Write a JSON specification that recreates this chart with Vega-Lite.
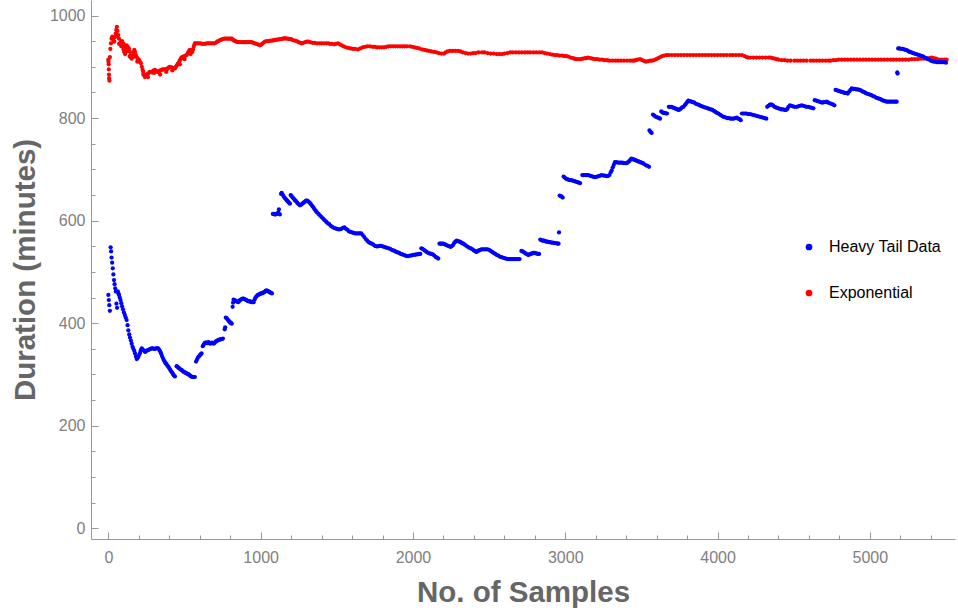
{
"$schema":"https://vega.github.io/schema/vega-lite/v6.json",
"width":864,"height":539,
"autosize":{"type":"none"},
"padding":{"left":91,"top":0,"right":3,"bottom":76},
"config":{"view":{"stroke":null},"font":"Liberation Sans",
"axis":{"grid":false,"domainColor":"#999999","tickColor":"#999999","labelColor":"#808080","labelFontSize":16,"labelFont":"Liberation Sans","titleColor":"#666666","titleFont":"Liberation Sans","titleFontSize":29.5,"titleFontWeight":"bold","domainWidth":1,"tickWidth":1}},
"datasets":{
"expo":[{"x":0,"y":914},{"x":1,"y":910},{"x":2,"y":905},{"x":3,"y":895},{"x":4,"y":885},{"x":5,"y":878},{"x":7,"y":873},{"x":10,"y":919},{"x":13,"y":935},{"x":17,"y":946},{"x":21,"y":955},{"x":26,"y":959},{"x":30,"y":955},{"x":35,"y":950},{"x":39,"y":949},{"x":44,"y":958},{"x":48,"y":965},{"x":52,"y":972},{"x":56,"y":978},{"x":60,"y":970},{"x":60,"y":960},{"x":65,"y":962},{"x":70,"y":955},{"x":70,"y":945},{"x":76,"y":946},{"x":82,"y":948},{"x":85,"y":940},{"x":88,"y":950},{"x":91,"y":949},{"x":96,"y":940},{"x":100,"y":934},{"x":100,"y":945},{"x":104,"y":929},{"x":110,"y":936},{"x":110,"y":925},{"x":115,"y":940},{"x":120,"y":942},{"x":120,"y":930},{"x":127,"y":939},{"x":135,"y":936},{"x":140,"y":930},{"x":140,"y":920},{"x":145,"y":923},{"x":150,"y":918},{"x":153,"y":916},{"x":158,"y":922},{"x":164,"y":928},{"x":170,"y":933},{"x":170,"y":920},{"x":175,"y":929},{"x":181,"y":923},{"x":186,"y":919},{"x":190,"y":910},{"x":192,"y":916},{"x":198,"y":914},{"x":201,"y":913},{"x":207,"y":910},{"x":214,"y":907},{"x":220,"y":900},{"x":225,"y":894},{"x":229,"y":890},{"x":230,"y":885},{"x":235,"y":884},{"x":240,"y":880},{"x":246,"y":883},{"x":252,"y":885},{"x":258,"y":886},{"x":260,"y":880},{"x":262,"y":887},{"x":268,"y":889},{"x":274,"y":890},{"x":280,"y":890},{"x":286,"y":889},{"x":292,"y":891},{"x":298,"y":893},{"x":300,"y":888},{"x":306,"y":894},{"x":312,"y":892},{"x":318,"y":891},{"x":324,"y":890},{"x":330,"y":890},{"x":336,"y":892},{"x":340,"y":885},{"x":342,"y":893},{"x":350,"y":894},{"x":358,"y":895},{"x":366,"y":895},{"x":374,"y":895},{"x":380,"y":890},{"x":383,"y":895},{"x":390,"y":897},{"x":397,"y":899},{"x":405,"y":900},{"x":412,"y":899},{"x":420,"y":898},{"x":420,"y":893},{"x":428,"y":897},{"x":437,"y":897},{"x":444,"y":900},{"x":450,"y":903},{"x":456,"y":906},{"x":462,"y":908},{"x":468,"y":912},{"x":470,"y":905},{"x":474,"y":915},{"x":480,"y":918},{"x":486,"y":919},{"x":492,"y":920},{"x":500,"y":921},{"x":500,"y":915},{"x":507,"y":922},{"x":514,"y":923},{"x":520,"y":926},{"x":526,"y":929},{"x":532,"y":932},{"x":536,"y":933},{"x":540,"y":932},{"x":540,"y":925},{"x":546,"y":930},{"x":551,"y":929},{"x":556,"y":934},{"x":560,"y":939},{"x":565,"y":943},{"x":569,"y":946},{"x":575,"y":946},{"x":585,"y":946},{"x":595,"y":946},{"x":605,"y":946},{"x":615,"y":945},{"x":625,"y":945},{"x":635,"y":945},{"x":645,"y":946},{"x":656,"y":946},{"x":666,"y":946},{"x":676,"y":946},{"x":686,"y":946},{"x":696,"y":946},{"x":706,"y":947},{"x":714,"y":949},{"x":722,"y":950},{"x":733,"y":952},{"x":742,"y":953},{"x":752,"y":954},{"x":762,"y":955},{"x":772,"y":955},{"x":782,"y":955},{"x":792,"y":955},{"x":802,"y":955},{"x":810,"y":955},{"x":818,"y":953},{"x":826,"y":951},{"x":834,"y":950},{"x":842,"y":949},{"x":852,"y":948},{"x":862,"y":948},{"x":872,"y":948},{"x":882,"y":948},{"x":892,"y":948},{"x":902,"y":948},{"x":912,"y":948},{"x":922,"y":948},{"x":932,"y":948},{"x":941,"y":948},{"x":951,"y":947},{"x":961,"y":946},{"x":971,"y":945},{"x":981,"y":944},{"x":990,"y":943},{"x":995,"y":942},{"x":1002,"y":943},{"x":1010,"y":945},{"x":1018,"y":947},{"x":1028,"y":949},{"x":1040,"y":950},{"x":1052,"y":950},{"x":1064,"y":951},{"x":1076,"y":951},{"x":1086,"y":952},{"x":1094,"y":952},{"x":1104,"y":953},{"x":1114,"y":953},{"x":1124,"y":954},{"x":1134,"y":954},{"x":1144,"y":955},{"x":1152,"y":955},{"x":1160,"y":956},{"x":1170,"y":955},{"x":1180,"y":955},{"x":1190,"y":954},{"x":1200,"y":954},{"x":1212,"y":952},{"x":1225,"y":951},{"x":1237,"y":950},{"x":1249,"y":948},{"x":1260,"y":947},{"x":1269,"y":946},{"x":1280,"y":947},{"x":1292,"y":948},{"x":1303,"y":949},{"x":1313,"y":949},{"x":1325,"y":948},{"x":1340,"y":947},{"x":1355,"y":947},{"x":1370,"y":946},{"x":1385,"y":946},{"x":1400,"y":946},{"x":1415,"y":946},{"x":1430,"y":946},{"x":1444,"y":946},{"x":1455,"y":945},{"x":1468,"y":945},{"x":1483,"y":944},{"x":1495,"y":945},{"x":1508,"y":946},{"x":1520,"y":944},{"x":1532,"y":942},{"x":1545,"y":940},{"x":1560,"y":938},{"x":1575,"y":937},{"x":1590,"y":936},{"x":1605,"y":935},{"x":1620,"y":935},{"x":1639,"y":934},{"x":1655,"y":936},{"x":1670,"y":938},{"x":1685,"y":939},{"x":1700,"y":940},{"x":1718,"y":940},{"x":1735,"y":939},{"x":1750,"y":939},{"x":1765,"y":938},{"x":1780,"y":938},{"x":1797,"y":938},{"x":1810,"y":938},{"x":1825,"y":939},{"x":1840,"y":940},{"x":1855,"y":940},{"x":1870,"y":940},{"x":1885,"y":940},{"x":1900,"y":940},{"x":1915,"y":940},{"x":1930,"y":940},{"x":1945,"y":940},{"x":1960,"y":940},{"x":1980,"y":940},{"x":1995,"y":939},{"x":2010,"y":938},{"x":2025,"y":937},{"x":2040,"y":936},{"x":2059,"y":934},{"x":2075,"y":933},{"x":2090,"y":932},{"x":2105,"y":931},{"x":2120,"y":930},{"x":2138,"y":929},{"x":2155,"y":928},{"x":2170,"y":927},{"x":2187,"y":926},{"x":2204,"y":926},{"x":2215,"y":928},{"x":2228,"y":930},{"x":2243,"y":931},{"x":2260,"y":931},{"x":2278,"y":931},{"x":2296,"y":931},{"x":2312,"y":930},{"x":2328,"y":928},{"x":2345,"y":927},{"x":2361,"y":926},{"x":2378,"y":926},{"x":2395,"y":927},{"x":2412,"y":927},{"x":2430,"y":928},{"x":2453,"y":928},{"x":2470,"y":928},{"x":2490,"y":927},{"x":2510,"y":926},{"x":2530,"y":926},{"x":2550,"y":925},{"x":2568,"y":925},{"x":2585,"y":925},{"x":2600,"y":926},{"x":2620,"y":927},{"x":2638,"y":928},{"x":2655,"y":928},{"x":2675,"y":928},{"x":2695,"y":928},{"x":2715,"y":928},{"x":2735,"y":928},{"x":2752,"y":928},{"x":2769,"y":928},{"x":2790,"y":928},{"x":2810,"y":928},{"x":2830,"y":928},{"x":2848,"y":928},{"x":2865,"y":927},{"x":2880,"y":926},{"x":2898,"y":925},{"x":2914,"y":924},{"x":2930,"y":923},{"x":2946,"y":923},{"x":2962,"y":922},{"x":2980,"y":922},{"x":2994,"y":921},{"x":3006,"y":921},{"x":3020,"y":920},{"x":3035,"y":918},{"x":3050,"y":917},{"x":3060,"y":916},{"x":3071,"y":915},{"x":3085,"y":915},{"x":3100,"y":915},{"x":3115,"y":916},{"x":3130,"y":917},{"x":3140,"y":917},{"x":3150,"y":918},{"x":3165,"y":917},{"x":3180,"y":916},{"x":3195,"y":915},{"x":3210,"y":915},{"x":3225,"y":914},{"x":3242,"y":914},{"x":3258,"y":913},{"x":3275,"y":913},{"x":3290,"y":912},{"x":3310,"y":912},{"x":3330,"y":912},{"x":3347,"y":912},{"x":3365,"y":912},{"x":3385,"y":912},{"x":3405,"y":912},{"x":3425,"y":912},{"x":3440,"y":912},{"x":3452,"y":912},{"x":3462,"y":913},{"x":3475,"y":914},{"x":3491,"y":915},{"x":3505,"y":913},{"x":3520,"y":911},{"x":3531,"y":910},{"x":3545,"y":911},{"x":3558,"y":912},{"x":3570,"y":912},{"x":3583,"y":913},{"x":3597,"y":915},{"x":3610,"y":917},{"x":3623,"y":919},{"x":3636,"y":921},{"x":3650,"y":922},{"x":3665,"y":923},{"x":3680,"y":923},{"x":3700,"y":923},{"x":3720,"y":923},{"x":3740,"y":923},{"x":3760,"y":923},{"x":3780,"y":923},{"x":3800,"y":923},{"x":3820,"y":923},{"x":3840,"y":923},{"x":3860,"y":923},{"x":3880,"y":923},{"x":3900,"y":923},{"x":3920,"y":923},{"x":3940,"y":923},{"x":3960,"y":923},{"x":3980,"y":923},{"x":4000,"y":923},{"x":4020,"y":923},{"x":4040,"y":923},{"x":4060,"y":923},{"x":4082,"y":923},{"x":4100,"y":923},{"x":4120,"y":923},{"x":4140,"y":923},{"x":4160,"y":923},{"x":4177,"y":921},{"x":4190,"y":919},{"x":4200,"y":918},{"x":4216,"y":918},{"x":4235,"y":918},{"x":4255,"y":918},{"x":4275,"y":918},{"x":4295,"y":918},{"x":4315,"y":918},{"x":4335,"y":918},{"x":4348,"y":918},{"x":4362,"y":917},{"x":4375,"y":916},{"x":4388,"y":915},{"x":4400,"y":914},{"x":4420,"y":913},{"x":4440,"y":913},{"x":4460,"y":912},{"x":4480,"y":912},{"x":4505,"y":912},{"x":4525,"y":912},{"x":4545,"y":912},{"x":4565,"y":912},{"x":4585,"y":912},{"x":4611,"y":912},{"x":4630,"y":912},{"x":4650,"y":912},{"x":4670,"y":912},{"x":4690,"y":912},{"x":4710,"y":912},{"x":4730,"y":912},{"x":4742,"y":912},{"x":4760,"y":913},{"x":4777,"y":913},{"x":4794,"y":914},{"x":4815,"y":914},{"x":4835,"y":914},{"x":4855,"y":914},{"x":4875,"y":914},{"x":4895,"y":914},{"x":4915,"y":914},{"x":4935,"y":914},{"x":4955,"y":914},{"x":4975,"y":914},{"x":4995,"y":914},{"x":5015,"y":914},{"x":5035,"y":914},{"x":5055,"y":914},{"x":5075,"y":914},{"x":5095,"y":914},{"x":5115,"y":914},{"x":5137,"y":914},{"x":5155,"y":914},{"x":5175,"y":914},{"x":5195,"y":914},{"x":5215,"y":914},{"x":5235,"y":914},{"x":5255,"y":914},{"x":5275,"y":915},{"x":5295,"y":915},{"x":5315,"y":915},{"x":5335,"y":916},{"x":5355,"y":916},{"x":5373,"y":916},{"x":5390,"y":917},{"x":5405,"y":918},{"x":5420,"y":917},{"x":5435,"y":916},{"x":5452,"y":914},{"x":5470,"y":914},{"x":5490,"y":914},{"x":5504,"y":914}],
"heavy":[{"x":0,"y":455},{"x":3,"y":445},{"x":6,"y":435},{"x":10,"y":424},{"x":15,"y":548},{"x":18,"y":540},{"x":21,"y":528},{"x":25,"y":518},{"x":29,"y":507},{"x":33,"y":495},{"x":37,"y":484},{"x":41,"y":476},{"x":45,"y":468},{"x":49,"y":462},{"x":53,"y":438},{"x":57,"y":430},{"x":62,"y":462},{"x":66,"y":458},{"x":70,"y":455},{"x":75,"y":450},{"x":80,"y":445},{"x":85,"y":439},{"x":90,"y":433},{"x":96,"y":427},{"x":102,"y":421},{"x":108,"y":416},{"x":114,"y":411},{"x":120,"y":406},{"x":126,"y":396},{"x":131,"y":386},{"x":137,"y":378},{"x":142,"y":372},{"x":148,"y":366},{"x":153,"y":360},{"x":159,"y":354},{"x":164,"y":350},{"x":170,"y":346},{"x":175,"y":341},{"x":181,"y":335},{"x":186,"y":330},{"x":191,"y":332},{"x":196,"y":334},{"x":202,"y":338},{"x":208,"y":342},{"x":213,"y":347},{"x":219,"y":351},{"x":225,"y":349},{"x":231,"y":347},{"x":237,"y":345},{"x":243,"y":344},{"x":250,"y":346},{"x":257,"y":347},{"x":264,"y":348},{"x":271,"y":349},{"x":278,"y":350},{"x":285,"y":351},{"x":292,"y":351},{"x":299,"y":350},{"x":306,"y":350},{"x":313,"y":351},{"x":320,"y":351},{"x":327,"y":351},{"x":334,"y":348},{"x":340,"y":345},{"x":346,"y":341},{"x":352,"y":336},{"x":358,"y":332},{"x":364,"y":328},{"x":370,"y":325},{"x":376,"y":322},{"x":382,"y":320},{"x":388,"y":317},{"x":394,"y":315},{"x":400,"y":312},{"x":406,"y":309},{"x":412,"y":306},{"x":418,"y":304},{"x":424,"y":301},{"x":430,"y":298},{"x":437,"y":296},{"x":448,"y":316},{"x":454,"y":315},{"x":460,"y":313},{"x":466,"y":312},{"x":472,"y":310},{"x":478,"y":309},{"x":484,"y":308},{"x":490,"y":306},{"x":496,"y":305},{"x":502,"y":304},{"x":508,"y":303},{"x":514,"y":302},{"x":520,"y":301},{"x":526,"y":300},{"x":532,"y":299},{"x":538,"y":297},{"x":544,"y":296},{"x":550,"y":295},{"x":556,"y":295},{"x":562,"y":295},{"x":568,"y":295},{"x":576,"y":325},{"x":582,"y":329},{"x":588,"y":333},{"x":594,"y":335},{"x":600,"y":337},{"x":606,"y":339},{"x":612,"y":341},{"x":620,"y":355},{"x":626,"y":358},{"x":632,"y":361},{"x":638,"y":362},{"x":644,"y":362},{"x":650,"y":361},{"x":656,"y":363},{"x":662,"y":362},{"x":668,"y":360},{"x":674,"y":361},{"x":680,"y":362},{"x":686,"y":361},{"x":692,"y":360},{"x":698,"y":362},{"x":704,"y":364},{"x":710,"y":365},{"x":716,"y":366},{"x":722,"y":367},{"x":728,"y":368},{"x":734,"y":368},{"x":740,"y":369},{"x":746,"y":369},{"x":752,"y":370},{"x":764,"y":388},{"x":767,"y":392},{"x":771,"y":411},{"x":776,"y":410},{"x":781,"y":408},{"x":786,"y":406},{"x":791,"y":404},{"x":796,"y":403},{"x":801,"y":401},{"x":806,"y":400},{"x":810,"y":399},{"x":816,"y":432},{"x":819,"y":440},{"x":822,"y":446},{"x":828,"y":445},{"x":834,"y":444},{"x":840,"y":443},{"x":846,"y":442},{"x":852,"y":441},{"x":858,"y":443},{"x":864,"y":445},{"x":870,"y":446},{"x":876,"y":447},{"x":882,"y":448},{"x":888,"y":448},{"x":894,"y":447},{"x":900,"y":446},{"x":906,"y":445},{"x":912,"y":444},{"x":918,"y":443},{"x":924,"y":443},{"x":930,"y":442},{"x":936,"y":442},{"x":942,"y":441},{"x":948,"y":441},{"x":954,"y":441},{"x":960,"y":446},{"x":966,"y":450},{"x":972,"y":452},{"x":978,"y":454},{"x":984,"y":455},{"x":990,"y":456},{"x":996,"y":457},{"x":1002,"y":458},{"x":1008,"y":458},{"x":1014,"y":459},{"x":1020,"y":460},{"x":1026,"y":461},{"x":1032,"y":463},{"x":1038,"y":464},{"x":1044,"y":463},{"x":1050,"y":462},{"x":1056,"y":461},{"x":1062,"y":460},{"x":1068,"y":459},{"x":1074,"y":458},{"x":1080,"y":613},{"x":1086,"y":613},{"x":1092,"y":612},{"x":1098,"y":612},{"x":1104,"y":613},{"x":1110,"y":614},{"x":1116,"y":616},{"x":1120,"y":622},{"x":1126,"y":612},{"x":1134,"y":652},{"x":1138,"y":654},{"x":1144,"y":651},{"x":1150,"y":648},{"x":1156,"y":645},{"x":1162,"y":643},{"x":1168,"y":641},{"x":1174,"y":639},{"x":1180,"y":637},{"x":1186,"y":635},{"x":1192,"y":633},{"x":1197,"y":650},{"x":1203,"y":648},{"x":1210,"y":645},{"x":1217,"y":643},{"x":1225,"y":640},{"x":1232,"y":638},{"x":1240,"y":635},{"x":1249,"y":632},{"x":1258,"y":630},{"x":1266,"y":631},{"x":1274,"y":633},{"x":1282,"y":635},{"x":1290,"y":637},{"x":1298,"y":639},{"x":1306,"y":639},{"x":1314,"y":637},{"x":1322,"y":635},{"x":1330,"y":632},{"x":1338,"y":629},{"x":1346,"y":626},{"x":1354,"y":622},{"x":1362,"y":619},{"x":1370,"y":616},{"x":1380,"y":613},{"x":1390,"y":610},{"x":1400,"y":607},{"x":1410,"y":604},{"x":1420,"y":601},{"x":1430,"y":598},{"x":1440,"y":595},{"x":1450,"y":593},{"x":1460,"y":590},{"x":1470,"y":588},{"x":1480,"y":586},{"x":1490,"y":585},{"x":1500,"y":584},{"x":1510,"y":583},{"x":1520,"y":583},{"x":1530,"y":584},{"x":1540,"y":586},{"x":1550,"y":587},{"x":1560,"y":584},{"x":1570,"y":582},{"x":1580,"y":579},{"x":1590,"y":578},{"x":1600,"y":577},{"x":1610,"y":576},{"x":1620,"y":575},{"x":1630,"y":575},{"x":1640,"y":575},{"x":1650,"y":575},{"x":1660,"y":575},{"x":1670,"y":572},{"x":1680,"y":568},{"x":1690,"y":564},{"x":1700,"y":561},{"x":1710,"y":558},{"x":1720,"y":556},{"x":1730,"y":555},{"x":1740,"y":553},{"x":1750,"y":551},{"x":1760,"y":550},{"x":1770,"y":550},{"x":1780,"y":551},{"x":1790,"y":551},{"x":1800,"y":550},{"x":1810,"y":549},{"x":1820,"y":548},{"x":1830,"y":547},{"x":1840,"y":546},{"x":1850,"y":545},{"x":1860,"y":543},{"x":1870,"y":542},{"x":1880,"y":541},{"x":1890,"y":539},{"x":1900,"y":538},{"x":1910,"y":537},{"x":1920,"y":535},{"x":1930,"y":534},{"x":1940,"y":533},{"x":1950,"y":532},{"x":1960,"y":531},{"x":1970,"y":531},{"x":1980,"y":532},{"x":1990,"y":532},{"x":2000,"y":533},{"x":2010,"y":533},{"x":2020,"y":534},{"x":2030,"y":534},{"x":2040,"y":535},{"x":2048,"y":535},{"x":2055,"y":546},{"x":2063,"y":545},{"x":2072,"y":543},{"x":2081,"y":541},{"x":2090,"y":539},{"x":2100,"y":537},{"x":2110,"y":536},{"x":2120,"y":535},{"x":2130,"y":534},{"x":2140,"y":532},{"x":2150,"y":529},{"x":2158,"y":528},{"x":2166,"y":526},{"x":2174,"y":555},{"x":2182,"y":555},{"x":2190,"y":555},{"x":2198,"y":555},{"x":2206,"y":554},{"x":2214,"y":553},{"x":2222,"y":552},{"x":2230,"y":551},{"x":2238,"y":550},{"x":2246,"y":549},{"x":2254,"y":550},{"x":2262,"y":552},{"x":2270,"y":556},{"x":2278,"y":559},{"x":2287,"y":561},{"x":2296,"y":560},{"x":2305,"y":559},{"x":2314,"y":558},{"x":2322,"y":556},{"x":2330,"y":555},{"x":2340,"y":553},{"x":2350,"y":551},{"x":2360,"y":549},{"x":2370,"y":547},{"x":2380,"y":546},{"x":2390,"y":544},{"x":2400,"y":542},{"x":2410,"y":540},{"x":2418,"y":539},{"x":2426,"y":541},{"x":2434,"y":542},{"x":2442,"y":543},{"x":2451,"y":544},{"x":2460,"y":544},{"x":2470,"y":544},{"x":2480,"y":544},{"x":2490,"y":544},{"x":2500,"y":543},{"x":2510,"y":541},{"x":2520,"y":539},{"x":2530,"y":537},{"x":2540,"y":535},{"x":2550,"y":533},{"x":2560,"y":532},{"x":2570,"y":530},{"x":2580,"y":529},{"x":2590,"y":528},{"x":2600,"y":527},{"x":2610,"y":526},{"x":2620,"y":525},{"x":2630,"y":525},{"x":2640,"y":525},{"x":2650,"y":525},{"x":2660,"y":525},{"x":2670,"y":525},{"x":2680,"y":525},{"x":2690,"y":525},{"x":2700,"y":525},{"x":2712,"y":541},{"x":2720,"y":540},{"x":2730,"y":538},{"x":2740,"y":536},{"x":2750,"y":534},{"x":2758,"y":533},{"x":2766,"y":534},{"x":2774,"y":535},{"x":2782,"y":536},{"x":2790,"y":537},{"x":2800,"y":537},{"x":2810,"y":536},{"x":2820,"y":535},{"x":2828,"y":535},{"x":2836,"y":563},{"x":2844,"y":562},{"x":2852,"y":561},{"x":2860,"y":561},{"x":2868,"y":560},{"x":2876,"y":559},{"x":2884,"y":559},{"x":2892,"y":558},{"x":2900,"y":558},{"x":2910,"y":557},{"x":2920,"y":557},{"x":2930,"y":556},{"x":2940,"y":556},{"x":2950,"y":555},{"x":2956,"y":555},{"x":2959,"y":577},{"x":2963,"y":649},{"x":2970,"y":648},{"x":2976,"y":647},{"x":2983,"y":645},{"x":2989,"y":686},{"x":2996,"y":684},{"x":3004,"y":682},{"x":3012,"y":681},{"x":3020,"y":680},{"x":3030,"y":679},{"x":3040,"y":679},{"x":3050,"y":678},{"x":3060,"y":677},{"x":3070,"y":676},{"x":3080,"y":675},{"x":3090,"y":674},{"x":3097,"y":673},{"x":3112,"y":689},{"x":3120,"y":689},{"x":3130,"y":689},{"x":3140,"y":689},{"x":3150,"y":689},{"x":3160,"y":688},{"x":3170,"y":687},{"x":3180,"y":686},{"x":3190,"y":685},{"x":3200,"y":685},{"x":3210,"y":686},{"x":3220,"y":687},{"x":3230,"y":688},{"x":3240,"y":689},{"x":3250,"y":688},{"x":3260,"y":688},{"x":3270,"y":687},{"x":3280,"y":687},{"x":3290,"y":689},{"x":3298,"y":694},{"x":3305,"y":698},{"x":3312,"y":704},{"x":3319,"y":709},{"x":3326,"y":714},{"x":3336,"y":714},{"x":3346,"y":713},{"x":3356,"y":713},{"x":3366,"y":713},{"x":3376,"y":713},{"x":3386,"y":712},{"x":3396,"y":712},{"x":3404,"y":712},{"x":3412,"y":714},{"x":3420,"y":716},{"x":3428,"y":719},{"x":3435,"y":721},{"x":3444,"y":720},{"x":3452,"y":719},{"x":3460,"y":718},{"x":3468,"y":717},{"x":3476,"y":716},{"x":3484,"y":715},{"x":3492,"y":714},{"x":3500,"y":713},{"x":3510,"y":712},{"x":3520,"y":710},{"x":3530,"y":708},{"x":3540,"y":707},{"x":3550,"y":705},{"x":3553,"y":776},{"x":3560,"y":773},{"x":3567,"y":771},{"x":3576,"y":807},{"x":3584,"y":805},{"x":3592,"y":803},{"x":3600,"y":802},{"x":3608,"y":801},{"x":3616,"y":800},{"x":3622,"y":799},{"x":3630,"y":813},{"x":3638,"y":811},{"x":3646,"y":810},{"x":3654,"y":810},{"x":3662,"y":809},{"x":3668,"y":809},{"x":3680,"y":822},{"x":3688,"y":822},{"x":3696,"y":822},{"x":3704,"y":821},{"x":3712,"y":820},{"x":3720,"y":819},{"x":3728,"y":818},{"x":3736,"y":817},{"x":3744,"y":816},{"x":3752,"y":817},{"x":3760,"y":819},{"x":3768,"y":821},{"x":3776,"y":822},{"x":3784,"y":825},{"x":3792,"y":828},{"x":3800,"y":831},{"x":3808,"y":834},{"x":3818,"y":833},{"x":3828,"y":832},{"x":3838,"y":831},{"x":3848,"y":830},{"x":3858,"y":828},{"x":3868,"y":827},{"x":3878,"y":826},{"x":3888,"y":824},{"x":3898,"y":823},{"x":3906,"y":822},{"x":3916,"y":821},{"x":3926,"y":820},{"x":3936,"y":819},{"x":3946,"y":818},{"x":3956,"y":817},{"x":3966,"y":816},{"x":3976,"y":814},{"x":3986,"y":812},{"x":3996,"y":810},{"x":4005,"y":809},{"x":4015,"y":807},{"x":4025,"y":805},{"x":4035,"y":803},{"x":4045,"y":802},{"x":4055,"y":801},{"x":4065,"y":800},{"x":4075,"y":800},{"x":4085,"y":799},{"x":4095,"y":799},{"x":4105,"y":799},{"x":4115,"y":800},{"x":4126,"y":801},{"x":4135,"y":799},{"x":4144,"y":798},{"x":4152,"y":796},{"x":4160,"y":809},{"x":4170,"y":809},{"x":4180,"y":809},{"x":4190,"y":809},{"x":4200,"y":808},{"x":4213,"y":808},{"x":4225,"y":807},{"x":4237,"y":806},{"x":4249,"y":805},{"x":4261,"y":804},{"x":4273,"y":803},{"x":4285,"y":802},{"x":4297,"y":801},{"x":4309,"y":800},{"x":4320,"y":799},{"x":4326,"y":822},{"x":4334,"y":824},{"x":4342,"y":826},{"x":4350,"y":827},{"x":4358,"y":826},{"x":4366,"y":824},{"x":4374,"y":822},{"x":4382,"y":821},{"x":4390,"y":820},{"x":4399,"y":819},{"x":4410,"y":818},{"x":4420,"y":817},{"x":4430,"y":817},{"x":4440,"y":816},{"x":4450,"y":816},{"x":4458,"y":818},{"x":4466,"y":822},{"x":4475,"y":825},{"x":4485,"y":824},{"x":4495,"y":823},{"x":4505,"y":822},{"x":4519,"y":822},{"x":4530,"y":823},{"x":4541,"y":824},{"x":4552,"y":825},{"x":4563,"y":824},{"x":4574,"y":823},{"x":4585,"y":822},{"x":4596,"y":822},{"x":4607,"y":821},{"x":4618,"y":820},{"x":4629,"y":819},{"x":4638,"y":835},{"x":4648,"y":834},{"x":4658,"y":833},{"x":4668,"y":832},{"x":4678,"y":831},{"x":4688,"y":830},{"x":4698,"y":831},{"x":4708,"y":831},{"x":4717,"y":832},{"x":4727,"y":830},{"x":4737,"y":829},{"x":4747,"y":828},{"x":4757,"y":827},{"x":4767,"y":825},{"x":4775,"y":855},{"x":4785,"y":854},{"x":4795,"y":853},{"x":4805,"y":852},{"x":4815,"y":851},{"x":4825,"y":850},{"x":4835,"y":849},{"x":4845,"y":849},{"x":4855,"y":848},{"x":4865,"y":852},{"x":4873,"y":855},{"x":4881,"y":858},{"x":4891,"y":857},{"x":4901,"y":857},{"x":4911,"y":856},{"x":4921,"y":856},{"x":4931,"y":855},{"x":4941,"y":854},{"x":4951,"y":852},{"x":4961,"y":851},{"x":4971,"y":849},{"x":4980,"y":848},{"x":4990,"y":847},{"x":5000,"y":846},{"x":5010,"y":845},{"x":5020,"y":843},{"x":5030,"y":842},{"x":5040,"y":840},{"x":5050,"y":839},{"x":5060,"y":838},{"x":5070,"y":837},{"x":5080,"y":835},{"x":5090,"y":834},{"x":5100,"y":833},{"x":5110,"y":832},{"x":5120,"y":832},{"x":5130,"y":832},{"x":5140,"y":832},{"x":5150,"y":832},{"x":5160,"y":832},{"x":5170,"y":832},{"x":5176,"y":832},{"x":5180,"y":889},{"x":5182,"y":887},{"x":5186,"y":936},{"x":5195,"y":936},{"x":5205,"y":935},{"x":5215,"y":935},{"x":5225,"y":934},{"x":5235,"y":933},{"x":5245,"y":932},{"x":5255,"y":930},{"x":5263,"y":929},{"x":5273,"y":928},{"x":5283,"y":927},{"x":5293,"y":926},{"x":5303,"y":925},{"x":5313,"y":924},{"x":5323,"y":923},{"x":5333,"y":922},{"x":5343,"y":921},{"x":5351,"y":920},{"x":5361,"y":918},{"x":5371,"y":917},{"x":5381,"y":915},{"x":5391,"y":914},{"x":5401,"y":912},{"x":5411,"y":911},{"x":5421,"y":910},{"x":5431,"y":910},{"x":5441,"y":909},{"x":5451,"y":909},{"x":5461,"y":909},{"x":5471,"y":909},{"x":5481,"y":909},{"x":5491,"y":909},{"x":5500,"y":908}]
},
"layer":[
{"data":{"name":"expo"},
 "mark":{"type":"circle","size":18,"opacity":1},
 "encoding":{
  "x":{"field":"x","type":"quantitative","scale":{"domain":[-114,5559],"nice":false,"zero":false},
       "axis":{"orient":"bottom","values":[0,1000,2000,3000,4000,5000],"format":"d","tickSize":-7,"labelPadding":17,"labelFlush":false,"labelOverlap":false,"title":"No. of Samples","titlePadding":13}},
  "y":{"field":"y","type":"quantitative","scale":{"domain":[-21,1030.4],"nice":false,"zero":false},
       "axis":{"orient":"left","values":[0,200,400,600,800,1000],"format":"d","tickSize":-7,"labelPadding":13,"labelFlush":false,"labelOverlap":false,"title":"Duration (minutes)","titlePadding":9}},
  "color":{"datum":"Exponential","type":"nominal",
       "scale":{"domain":["Heavy Tail Data","Exponential"],"range":["#0000ff","#ff0000"]},
       "legend":{"title":null,"orient":"none","legendX":710,"legendY":239,"padding":0,"symbolType":"circle","symbolSize":45,"symbolStrokeWidth":0,"symbolOpacity":1,"labelFontSize":16,"labelColor":"#000000","labelFont":"Liberation Sans","labelOffset":12,"rowPadding":30}}
 }},
{"data":{"name":"heavy"},
 "mark":{"type":"circle","size":18,"opacity":1},
 "encoding":{
  "x":{"field":"x","type":"quantitative",
       "axis":{"orient":"bottom","values":[200,400,600,800,1200,1400,1600,1800,2200,2400,2600,2800,3200,3400,3600,3800,4200,4400,4600,4800,5200,5400],"tickSize":-4,"labels":false,"domain":false,"title":null}},
  "y":{"field":"y","type":"quantitative",
       "axis":{"orient":"left","values":[50,100,150,250,300,350,450,500,550,650,700,750,850,900,950],"tickSize":-4,"labels":false,"domain":false,"title":null}},
  "color":{"datum":"Heavy Tail Data","type":"nominal"}
 }}
],
"resolve":{"axis":{"x":"independent","y":"independent"}}
}
